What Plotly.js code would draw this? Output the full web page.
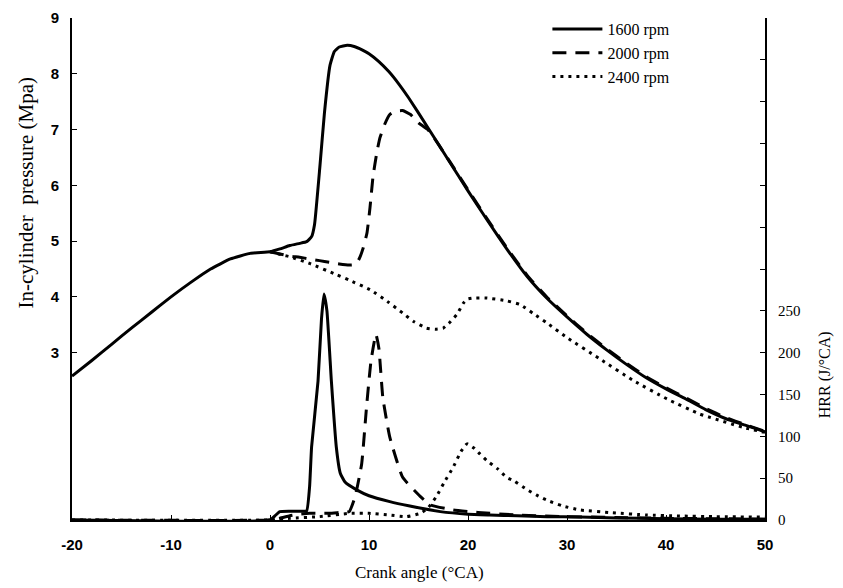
<!DOCTYPE html>
<html>
<head>
<meta charset="utf-8">
<script src="https://cdn.plot.ly/plotly-3.0.1.min.js"></script>
<style>html,body{margin:0;padding:0;background:#fff;}#chart{width:843px;height:588px;}</style>
</head>
<body>
<div id="chart"></div>
<script>
// ---- Data ----
var seriesNames = ['1600 rpm', '2000 rpm', '2400 rpm'];

// In-cylinder pressure (MPa)
var pX1600 = [-20,-18,-16,-14,-12,-10,-8,-6,-4,-2,0,1,2,3,3.7,4.2,4.5,5.05,5.5,6.06,6.5,7.0,7.8,8.5,9.3,10,11,12,13,14,16,18,20,22,24,26,28,30,32,34,36,38,40,42,44,46,48,50];
var pY1600 = [2.58,2.86,3.15,3.44,3.72,4.00,4.26,4.50,4.68,4.78,4.81,4.86,4.92,4.96,4.99,5.08,5.3,6.36,7.3,8.15,8.4,8.48,8.51,8.49,8.43,8.36,8.22,8.04,7.82,7.57,7.02,6.46,5.9,5.36,4.84,4.36,3.97,3.64,3.33,3.05,2.79,2.55,2.35,2.17,1.98,1.82,1.70,1.58];

var pX2000 = [0,1,2,3,4,5,6,7,8,8.6,9.0,9.4,9.8,10.1,10.4,10.8,11.1,11.6,12.1,12.7,13.4,14.2,15.0,16,18,20,22,24,26,28,30,32,34,36,38,40,42,44,46,48,50];
var pY2000 = [4.81,4.77,4.73,4.71,4.68,4.65,4.62,4.59,4.57,4.58,4.68,4.87,5.15,5.6,6.15,6.6,6.85,7.1,7.27,7.33,7.34,7.27,7.12,6.99,6.47,5.92,5.38,4.86,4.38,3.99,3.66,3.35,3.07,2.81,2.57,2.37,2.19,2.00,1.84,1.71,1.59];

var pX2400 = [0,1.3,2,4,6.7,8,10.1,12,13.4,14.5,15.8,16.7,17.5,18.2,18.9,19.5,19.9,20.5,21.9,23.9,25.3,26.6,28,30,33.3,36.7,40.1,43.4,47.8,50];
var pY2400 = [4.81,4.75,4.72,4.60,4.40,4.30,4.13,3.90,3.71,3.56,3.44,3.42,3.44,3.55,3.69,3.88,3.96,3.98,3.98,3.93,3.86,3.70,3.53,3.27,2.89,2.50,2.17,1.90,1.66,1.57];

// Heat release rate (J/°CA)
var hX1600 = [-20,0,0.5,1,2,3,3.7,4.0,4.2,4.85,5.2,5.45,5.75,6.2,6.7,7.1,7.6,8.75,10,12.1,14,17.2,20,22.2,25,28,31.3,35,40,45,50];
var hY1600 = [0,0,5,10,10.5,10.5,11,40,87,166,240,270,250,166,87,56,45,36,29,22,17,10,7,6,5,4,3.5,2.5,1.5,1,1];

var hX2000 = [-20,0,1,2,3,4,5,6,7,8,8.6,9.26,9.75,10.2,10.7,11.0,11.4,12.1,13.4,15.2,16.2,18.5,21,25,30,35,40,50];
var hY2000 = [0,0,2,5,7,8,8,8,9,10,28,67,135,190,222,205,146,99,51,28,18,12,9,6,4,3,2,1];

var hX2400 = [-20,0,2,5,8.1,10,12,13.8,15.2,16,16.8,17.6,18.5,19.3,19.9,20.6,21.2,21.9,23,23.9,24.6,26,26.9,27.9,29.5,31.3,34.6,38,41.4,45,50];
var hY2400 = [0,0,2,4,8,8,6,4,8,15,28,45,63,82,91,86,79,71,61,51,47,36,30,24,17,12,8.7,6,4.8,4,3.5];

// Axis ticks
var xTicks = [-20,-10,0,10,20,30,40,50];
var pTicks = [3,4,5,6,7,8,9];
var hTicks = [0,50,100,150,200,250,300,350,400,450,500,550,600];
var hTickText = ['0','50','100','150','200','250','','','','','','',''];

// ---- Chart ----
var dashStyles = ['solid', '14px,9px', '3px,5px'];
function tr(x, y, i, axis, show) {
  return {
    x: x, y: y, yaxis: axis, type: 'scatter', mode: 'lines',
    name: seriesNames[i], showlegend: show,
    line: {color: '#000', width: 3, dash: dashStyles[i], shape: 'spline', smoothing: 0.4}
  };
}
var traces = [
  tr(pX1600, pY1600, 0, 'y', true),
  tr(pX2000, pY2000, 1, 'y', true),
  tr(pX2400, pY2400, 2, 'y', true),
  tr(hX1600, hY1600, 0, 'y2', false),
  tr(hX2000, hY2000, 1, 'y2', false),
  tr(hX2400, hY2400, 2, 'y2', false)
];

var SERIF = "'Liberation Serif', 'Times New Roman', serif";
var SANS = "'Liberation Sans', Arial, sans-serif";
var sansBold = {family: SANS, size: 15, color: '#000', weight: 'bold'};
var serif = {family: SERIF, size: 15, color: '#000'};

var layout = {
  width: 843, height: 588,
  margin: {l: 72, r: 78, t: 15, b: 68},
  paper_bgcolor: '#fff', plot_bgcolor: '#fff',
  showlegend: true,
  legend: {
    x: 0.686, y: 1.012, xanchor: 'left', yanchor: 'top',
    font: {family: SERIF, size: 16, color: '#000'},
    bgcolor: 'rgba(0,0,0,0)', itemwidth: 50, tracegroupgap: 0
  },
  xaxis: {
    range: [-20, 50], tickvals: xTicks, ticktext: xTicks.map(String),
    showgrid: false, zeroline: false, showline: true, linecolor: '#000', linewidth: 2,
    ticks: 'inside', ticklen: 5, tickwidth: 1, tickcolor: '#000',
    tickfont: sansBold, ticklabelstandoff: 10
  },
  yaxis: {
    range: [0, 9], tickvals: pTicks, ticktext: pTicks.map(String),
    showgrid: false, zeroline: false, showline: true, linecolor: '#000', linewidth: 2,
    ticks: 'inside', ticklen: 5, tickwidth: 1, tickcolor: '#000',
    tickfont: sansBold, ticklabelstandoff: 8
  },
  yaxis2: {
    range: [0, 600], overlaying: 'y', side: 'right',
    tickvals: hTicks, ticktext: hTickText,
    showgrid: false, zeroline: false, showline: true, linecolor: '#000', linewidth: 2,
    ticks: 'inside', ticklen: 5, tickwidth: 1, tickcolor: '#000',
    tickfont: serif, ticklabelstandoff: 8
  },
  annotations: [
    {text: 'In-cylinder  pressure (Mpa)', xref: 'paper', yref: 'paper', x: -0.066, y: 0.653,
     textangle: -90, showarrow: false, xanchor: 'center', yanchor: 'middle',
     font: {family: SERIF, size: 21, color: '#000'}},
    {text: 'HRR (J/°CA)', xref: 'paper', yref: 'paper', x: 1.087, y: 0.289,
     textangle: -90, showarrow: false, xanchor: 'center', yanchor: 'middle',
     font: {family: SERIF, size: 16, color: '#000'}},
    {text: 'Crank angle (°CA)', xref: 'paper', yref: 'paper', x: 0.502, y: -0.105,
     showarrow: false, xanchor: 'center', yanchor: 'middle',
     font: {family: SERIF, size: 17, color: '#000'}}
  ]
};

Plotly.newPlot('chart', traces, layout, {displayModeBar: false, staticPlot: true});
</script>
</body>
</html>
